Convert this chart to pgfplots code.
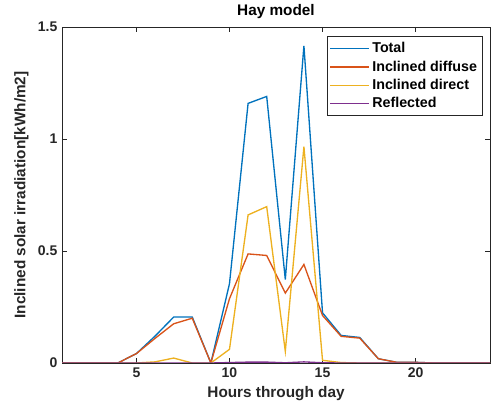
\documentclass[border=0pt]{standalone}
\usepackage{pgfplots}
\pgfplotsset{compat=1.18}
\usepackage{fontspec}
\setmainfont{Liberation Sans}
\definecolor{mblue}{rgb}{0,0.447,0.741}
\definecolor{morange}{rgb}{0.85,0.325,0.098}
\definecolor{myellow}{rgb}{0.929,0.694,0.125}
\definecolor{mpurple}{rgb}{0.494,0.184,0.556}
\definecolor{maxis}{rgb}{0.15,0.15,0.15}
\begin{document}
\begin{tikzpicture}
\begin{axis}[
  at={(0,0)}, anchor=south west,
  scale only axis, width=321pt, height=252pt,
  xmin=1, xmax=24, ymin=0, ymax=1.5,
  xtick={5,10,15,20}, ytick={0,0.5,1,1.5},
  yticklabels={0,0.5,1,1.5},
  tick align=inside, tick pos=both,
  major tick length=4pt,
  axis line style={maxis, line width=0.6pt},
  tick style={maxis, line width=0.6pt},
  /pgf/number format/assume math mode=true,
  tick label style={font=\fontsize{10.5}{12}\bfseries, text=maxis},
  xlabel={Hours through day}, ylabel={Inclined solar irradiation[kWh/m2]},
  label style={font=\fontsize{11.5}{13}\bfseries, text=maxis},
  title={Hay model},
  title style={font=\fontsize{11.5}{13}\bfseries, yshift=-3pt},
  legend style={at={(0.983,0.973)}, anchor=north east, font=\fontsize{10.7}{13}\bfseries,
    draw=maxis, line width=0.6pt, inner xsep=2pt, inner ysep=2.5pt, row sep=0.5pt},
  legend cell align=left,
  legend image code/.code={\draw[#1, line width=0.9pt] (-1pt,0pt) -- (28pt,0pt);},
  every axis plot/.append style={line width=1pt},
]
\addplot[mblue] coordinates {(1,0)(2,0)(3,0)(4,0)(5,0.042)(6,0.12)(7,0.205)(8,0.205)(9,0)(10,0.354)(11,1.159)(12,1.190)(13,0.373)(14,1.416)(15,0.224)(16,0.123)(17,0.114)(18,0.019)(19,0.003)(20,0.003)(21,0)(22,0)(23,0)(24,0)};
\addlegendentry{Total}
\addplot[morange] coordinates {(1,0)(2,0)(3,0)(4,0)(5,0.042)(6,0.11)(7,0.175)(8,0.200)(9,0)(10,0.287)(11,0.487)(12,0.480)(13,0.312)(14,0.440)(15,0.212)(16,0.119)(17,0.111)(18,0.019)(19,0.003)(20,0.003)(21,0)(22,0)(23,0)(24,0)};
\addlegendentry{Inclined diffuse}
\addplot[myellow] coordinates {(1,0)(2,0)(3,0)(4,0)(5,0)(6,0.005)(7,0.022)(8,0)(9,0)(10,0.061)(11,0.661)(12,0.698)(13,0.052)(14,0.966)(15,0.012)(16,0.002)(17,0)(18,0)(19,0)(20,0)(21,0)(22,0)(23,0)(24,0)};
\addlegendentry{Inclined direct}
\addplot[mpurple] coordinates {(1,0)(2,0)(3,0)(4,0)(5,0)(6,0)(7,0)(8,0)(9,0)(10,0.002)(11,0.004)(12,0.004)(13,0.001)(14,0.005)(15,0.001)(16,0)(17,0)(18,0)(19,0)(20,0)(21,0)(22,0)(23,0)(24,0)};
\addlegendentry{Reflected}
\end{axis}
\pgfresetboundingbox
\path (-46.5pt,-39.75pt) rectangle (321.75pt,272.25pt);
\end{tikzpicture}
\end{document}
